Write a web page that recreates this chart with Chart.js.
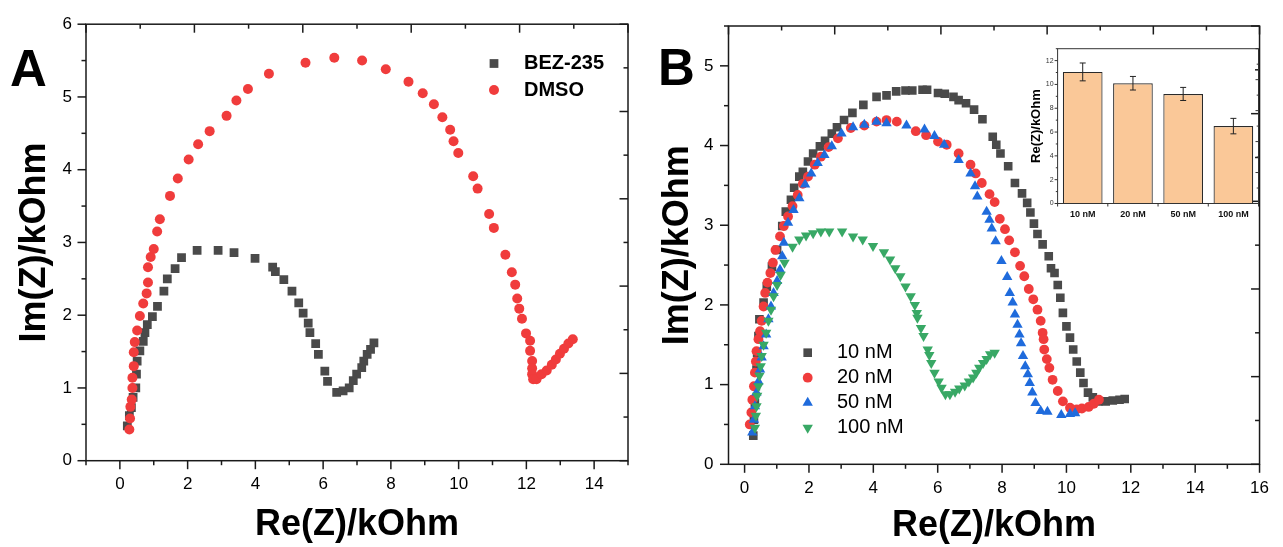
<!DOCTYPE html>
<html>
<head>
<meta charset="utf-8">
<script src="https://cdn.jsdelivr.net/npm/chart.js@4.4.1/dist/chart.umd.min.js"></script>
<style>
  body { margin: 0; background: #fff; }
  #wrap { position: relative; width: 1283px; height: 547px; }
  canvas { position: absolute; }
</style>
</head>
<body>
<div id="wrap">
  <canvas id="chartA" width="641" height="547" style="left:0;top:0"></canvas>
  <canvas id="chartB" width="642" height="547" style="left:641px;top:0"></canvas>
  <canvas id="inset" width="275" height="190" style="left:995px;top:40px"></canvas>
</div>
<script>
// ---- panel A data (Re, Im in kOhm) ----
var bezX = [0.22,0.28,0.34,0.39,0.47,0.49,0.51,0.59,0.69,0.74,0.81,0.96,1.11,1.30,1.40,1.63,1.82,2.28,2.90,3.37,3.99,4.51,4.59,4.84,5.08,5.28,5.41,5.56,5.61,5.78,5.86,6.05,6.13,6.40,6.59,6.77,6.89,6.99,7.14,7.20,7.30,7.40,7.50];
var bezY = [0.48,0.62,0.73,0.87,1.00,1.19,1.37,1.51,1.64,1.76,1.87,1.98,2.12,2.33,2.50,2.64,2.79,2.89,2.89,2.86,2.78,2.66,2.60,2.49,2.33,2.17,2.03,1.89,1.76,1.61,1.46,1.23,1.09,0.94,0.96,1.00,1.10,1.19,1.28,1.37,1.46,1.53,1.62];

var dmsoX = [0.28,0.30,0.31,0.35,0.37,0.37,0.41,0.41,0.44,0.51,0.59,0.69,0.79,0.83,0.83,0.91,1.00,1.10,1.18,1.48,1.71,2.03,2.31,2.65,3.15,3.44,3.78,4.40,5.48,6.33,7.15,7.85,8.52,8.94,9.27,9.52,9.75,9.85,9.99,10.43,10.56,10.90,11.04,11.38,11.57,11.67,11.73,11.79,11.87,11.99,12.11,12.11,12.17,12.17,12.17,12.20,12.30,12.45,12.60,12.75,12.87,12.99,13.11,13.24,13.37];
var dmsoY = [0.43,0.58,0.74,0.84,1.00,1.14,1.30,1.49,1.63,1.79,1.99,2.16,2.30,2.45,2.66,2.80,2.91,3.15,3.32,3.64,3.88,4.14,4.35,4.53,4.74,4.95,5.11,5.32,5.47,5.54,5.50,5.38,5.21,5.05,4.90,4.72,4.55,4.39,4.23,3.91,3.74,3.39,3.20,2.83,2.59,2.42,2.23,2.09,1.95,1.75,1.65,1.51,1.37,1.27,1.19,1.12,1.12,1.19,1.24,1.32,1.39,1.47,1.54,1.61,1.67];

// ---- panel B data ----
var nm10X = [0.27,0.29,0.32,0.35,0.37,0.39,0.43,0.46,0.59,0.69,0.85,1.01,1.17,1.28,1.44,1.54,1.70,1.81,1.97,2.13,2.34,2.50,2.71,2.87,3.09,3.35,3.69,4.10,4.41,4.71,5.00,5.21,5.53,5.67,6.01,6.22,6.49,6.65,6.88,7.13,7.39,7.71,7.82,7.95,8.19,8.40,8.62,8.78,8.88,8.99,9.10,9.26,9.45,9.52,9.63,9.73,9.81,9.89,10.00,10.11,10.21,10.32,10.43,10.53,10.67,10.82,10.99,11.22,11.44,11.65,11.81];
var nm10Y = [0.36,0.56,0.77,0.98,1.19,1.40,1.61,1.82,2.03,2.23,2.48,2.69,2.99,3.17,3.32,3.47,3.61,3.67,3.80,3.90,3.99,4.06,4.15,4.23,4.32,4.41,4.51,4.61,4.63,4.68,4.69,4.69,4.70,4.70,4.66,4.65,4.61,4.57,4.53,4.45,4.33,4.11,4.01,3.90,3.74,3.53,3.40,3.28,3.16,3.02,2.89,2.76,2.61,2.46,2.40,2.25,2.09,1.90,1.73,1.59,1.44,1.29,1.15,1.02,0.90,0.84,0.79,0.79,0.80,0.81,0.82];

var nm20X = [0.16,0.21,0.24,0.29,0.32,0.35,0.37,0.43,0.48,0.53,0.59,0.64,0.71,0.80,0.88,0.96,1.10,1.22,1.35,1.49,1.65,1.81,1.97,2.18,2.37,2.61,2.90,3.30,3.72,4.10,4.41,4.73,5.32,5.64,6.01,6.28,6.65,7.02,7.18,7.37,7.61,7.77,7.93,8.09,8.22,8.40,8.56,8.69,8.83,8.97,9.10,9.20,9.26,9.29,9.31,9.39,9.47,9.57,9.73,9.89,10.11,10.32,10.48,10.69,10.85,11.01];
var nm20Y = [0.50,0.65,0.81,0.98,1.15,1.29,1.42,1.57,1.67,1.80,1.98,2.15,2.28,2.40,2.53,2.69,2.86,2.99,3.11,3.24,3.38,3.52,3.61,3.76,3.86,3.98,4.09,4.22,4.25,4.30,4.32,4.30,4.18,4.13,4.05,4.01,3.90,3.76,3.65,3.53,3.39,3.29,3.08,2.95,2.81,2.66,2.49,2.36,2.20,2.07,1.94,1.80,1.65,1.57,1.44,1.32,1.21,1.06,0.92,0.79,0.71,0.69,0.70,0.72,0.76,0.81];

var nm50X = [0.24,0.29,0.32,0.37,0.43,0.48,0.53,0.59,0.67,0.74,0.82,0.90,1.01,1.10,1.17,1.22,1.35,1.52,1.70,1.88,2.07,2.27,2.48,2.71,3.01,3.37,3.72,4.10,4.41,5.03,5.59,5.90,6.20,6.65,7.02,7.16,7.23,7.52,7.61,7.68,7.80,7.98,8.16,8.24,8.33,8.40,8.48,8.54,8.59,8.65,8.72,8.80,8.86,8.94,9.04,9.20,9.41,9.84,10.11,10.27];
var nm50Y = [0.40,0.56,0.73,0.90,1.04,1.19,1.34,1.48,1.63,1.82,1.98,2.15,2.30,2.44,2.61,2.78,3.03,3.19,3.34,3.51,3.65,3.78,3.88,3.99,4.15,4.23,4.26,4.30,4.28,4.25,4.20,4.12,4.01,3.82,3.65,3.49,3.36,3.17,3.07,2.96,2.80,2.55,2.35,2.15,2.03,1.88,1.75,1.63,1.52,1.36,1.23,1.13,1.02,0.90,0.77,0.67,0.66,0.62,0.63,0.64];

var nm100X = [0.32,0.35,0.37,0.39,0.43,0.46,0.50,0.53,0.59,0.67,0.74,0.82,0.90,1.01,1.12,1.24,1.49,1.70,1.91,2.13,2.37,2.63,3.03,3.37,3.67,3.99,4.33,4.52,4.68,4.84,5.00,5.16,5.29,5.35,5.37,5.48,5.56,5.69,5.74,5.80,5.90,6.03,6.12,6.24,6.38,6.54,6.67,6.84,6.97,7.10,7.20,7.29,7.41,7.52,7.63,7.77];
var nm100Y = [0.46,0.61,0.73,0.86,0.98,1.11,1.23,1.36,1.50,1.65,1.80,1.94,2.11,2.25,2.38,2.53,2.73,2.82,2.87,2.90,2.92,2.92,2.92,2.86,2.82,2.74,2.66,2.57,2.46,2.36,2.23,2.11,2.00,1.90,1.84,1.71,1.61,1.44,1.37,1.27,1.15,1.04,0.96,0.88,0.88,0.91,0.95,0.99,1.04,1.09,1.15,1.21,1.27,1.32,1.38,1.40];

// ---- inset bar data ----
var insetLabels = ['10 nM', '20 nM', '50 nM', '100 nM'];
var insetValues = [11.05, 10.1, 9.2, 6.5];
var insetErrors = [0.75, 0.57, 0.55, 0.65];

function pts(xs, ys) {
  return xs.map(function (x, i) { return { x: x, y: ys[i] }; });
}

Chart.defaults.font.family = "'Liberation Sans', Arial, sans-serif";
Chart.defaults.color = '#000';
Chart.defaults.animation = false;
Chart.defaults.events = [];
Chart.defaults.plugins.legend.display = false;
Chart.defaults.plugins.tooltip.enabled = false;

// frame + major/minor tick marks, outward on the main axes, inward on the mirror axes
function frameTicks(o) {
  return {
    id: 'frameTicks',
    afterDraw: function (chart) {
      var ctx = chart.ctx, a = chart.chartArea;
      ctx.save();
      ctx.strokeStyle = o.color;
      ctx.lineWidth = o.width;
      ctx.strokeRect(a.left, a.top, a.right - a.left, a.bottom - a.top);
      o.axes.forEach(function (ax) {
        var s = chart.scales[ax.id];
        var vals = ax.tickValues;
        if (!vals) {
          vals = [];
          for (var i = Math.ceil(s.min / ax.step - 1e-9); i * ax.step <= s.max + 1e-9; i++) vals.push(i * ax.step);
        }
        vals.forEach(function (v) {
          var major = ax.major ? Math.abs(v / ax.major - Math.round(v / ax.major)) < 1e-6 : true;
          var len = (major ? o.long : o.short) * (ax.inward ? -1 : 1);
          var p = s.getPixelForValue(v);
          ctx.beginPath();
          if (ax.edge === 'bottom') { ctx.moveTo(p, a.bottom); ctx.lineTo(p, a.bottom + len); }
          else if (ax.edge === 'top') { ctx.moveTo(p, a.top); ctx.lineTo(p, a.top - len); }
          else if (ax.edge === 'left') { ctx.moveTo(a.left, p); ctx.lineTo(a.left - len, p); }
          else { ctx.moveTo(a.right, p); ctx.lineTo(a.right + len, p); }
          ctx.stroke();
        });
      });
      ctx.restore();
    }
  };
}

function insideLegend(o) {
  return {
    id: 'insideLegend',
    afterDraw: function (chart) {
      var ctx = chart.ctx;
      ctx.save();
      chart.data.datasets.forEach(function (ds, i) {
        var y = o.y + i * o.row;
        ctx.fillStyle = ds.backgroundColor;
        Chart.helpers.drawPoint(ctx, {
          pointStyle: ds.pointStyle, radius: ds.pointRadius,
          rotation: ds.pointRotation || 0, borderWidth: 0
        }, o.x, y);
        ctx.fillStyle = '#000';
        ctx.font = o.font;
        ctx.textBaseline = 'middle';
        ctx.textAlign = 'left';
        ctx.fillText(ds.label, o.textX, y);
      });
      ctx.restore();
    }
  };
}

function panelLetter(o) {
  return {
    id: 'panelLetter',
    afterDraw: function (chart) {
      var ctx = chart.ctx;
      ctx.save();
      ctx.font = o.font;
      ctx.fillStyle = '#000';
      ctx.textBaseline = 'alphabetic';
      ctx.fillText(o.text, o.x, o.y);
      ctx.restore();
    }
  };
}

function errorBars(o) {
  return {
    id: 'errorBars',
    afterDatasetsDraw: function (chart) {
      var ctx = chart.ctx, ys = chart.scales.y;
      var meta = chart.getDatasetMeta(0);
      ctx.save();
      ctx.strokeStyle = o.color;
      ctx.lineWidth = o.width;
      meta.data.forEach(function (bar, i) {
        var v = insetValues[i], e = insetErrors[i];
        var top = ys.getPixelForValue(v + e), bot = ys.getPixelForValue(v - e);
        ctx.beginPath();
        ctx.moveTo(bar.x, top); ctx.lineTo(bar.x, bot);
        ctx.moveTo(bar.x - o.cap, top); ctx.lineTo(bar.x + o.cap, top);
        ctx.moveTo(bar.x - o.cap, bot); ctx.lineTo(bar.x + o.cap, bot);
        ctx.stroke();
      });
      ctx.restore();
    }
  };
}

function fixSize(prop, size) {
  return function (scale) { scale[prop] = size; };
}

function nyquistChart(id, sets, opts) {
  return new Chart(document.getElementById(id), {
    type: 'scatter',
    data: { datasets: sets },
    plugins: [
      frameTicks({
        color: '#1a1a1a', width: 1.5, long: 8.5, short: 4.5,
        axes: [
          { id: 'x', edge: 'bottom', step: 1, major: 2 },
          { id: 'y', edge: 'left', step: 0.5, major: 1 },
          { id: 'x2', edge: 'top', step: 1, major: 2, inward: true },
          { id: 'y2', edge: 'right', step: 1, major: 2, inward: true }
        ]
      }),
      insideLegend(opts.legend),
      panelLetter(opts.letter)
    ],
    options: {
      responsive: false,
      devicePixelRatio: 1,
      layout: { padding: opts.padding },
      scales: {
        x: {
          type: 'linear', position: 'bottom', min: opts.xMin, max: opts.xMax,
          grid: { display: false, drawTicks: false }, border: { display: false },
          ticks: {
            stepSize: 1, autoSkip: false, includeBounds: false, maxRotation: 0, padding: opts.xPad,
            font: { size: 17 }, color: '#000',
            callback: function (v) { return v % 2 === 0 ? v : ''; }
          },
          title: { display: true, text: 'Re(Z)/kOhm', font: { size: 36, weight: 'bold', lineHeight: 1 }, padding: { top: 0, bottom: opts.xTitlePad } },
          afterFit: fixSize('height', opts.xHeight)
        },
        y: {
          type: 'linear', position: 'left', min: 0, max: opts.yMax,
          grid: { display: false, drawTicks: false }, border: { display: false },
          ticks: {
            stepSize: 0.5, autoSkip: false, includeBounds: false, padding: opts.yPad,
            font: { size: 17 }, color: '#000',
            callback: function (v) { return Number.isInteger(v) ? v : ''; }
          },
          title: { display: true, text: 'Im(Z)/kOhm', font: { size: 36, weight: 'bold', lineHeight: 1 }, padding: { top: opts.yTitlePad, bottom: 0 } },
          afterFit: fixSize('width', opts.yWidth)
        },
        x2: { type: 'linear', position: 'top', min: 0, max: 10, display: false },
        y2: { type: 'linear', position: 'right', min: 0, max: 10, display: false }
      }
    }
  });
}

function series(label, xs, ys, color, style, r, order, rot) {
  return {
    label: label, data: pts(xs, ys), order: order,
    backgroundColor: color, borderColor: color,
    pointStyle: style, pointRadius: r, pointBorderWidth: 0,
    pointRotation: rot || 0, showLine: false
  };
}

var GREY = '#4a4a4a', RED = '#f03c3c', BLUE = '#1f6bdc', GREEN = '#38a865';

nyquistChart('chartA', [
  series('BEZ-235', bezX, bezY, GREY, 'rect', 6.2, 1),
  series('DMSO', dmsoX, dmsoY, RED, 'circle', 5, 0)
], {
  padding: { top: 22.3, right: 10.3, left: 0, bottom: 0 },
  xMin: -1, xMax: 15, yMax: 6,
  xHeight: 86.3, yWidth: 86, xPad: 13, yPad: 14, xTitlePad: 4, yTitlePad: 17,
  legend: { x: 494, y: 63.5, row: 26.5, textX: 524, font: "bold 20px 'Liberation Sans', Arial, sans-serif" },
  letter: { text: 'A', x: 10, y: 86, font: "bold 51px 'Liberation Sans', Arial, sans-serif" }
});

nyquistChart('chartB', [
  series('10 nM', nm10X, nm10Y, GREY, 'rect', 6.1, 3),
  series('20 nM', nm20X, nm20Y, RED, 'circle', 4.9, 2),
  series('50 nM', nm50X, nm50Y, BLUE, 'triangle', 6, 1),
  series('100 nM', nm100X, nm100Y, GREEN, 'triangle', 6, 0, 180)
], {
  padding: { top: 26, right: 9.7, left: 0, bottom: 0 },
  xMin: -0.5, xMax: 16, yMax: 5.5,
  xHeight: 82.7, yWidth: 87.5, xPad: 14, yPad: 15, xTitlePad: 3, yTitlePad: 19,
  legend: { x: 166.7, y: 352.7, row: 25, textX: 196, font: "20px 'Liberation Sans', Arial, sans-serif" },
  letter: { text: 'B', x: 17, y: 84.5, font: "bold 51px 'Liberation Sans', Arial, sans-serif" }
});

new Chart(document.getElementById('inset'), {
  type: 'bar',
  data: {
    labels: insetLabels,
    datasets: [{
      data: insetValues, backgroundColor: '#fac898', borderColor: '#2a2a2a', borderWidth: 1.2,
      categoryPercentage: 1, barPercentage: 0.79
    }]
  },
  plugins: [
    errorBars({ color: '#222', width: 1, cap: 3 }),
    frameTicks({
      color: '#333', width: 1, long: 3, short: 1.8,
      axes: [
        { id: 'y', edge: 'left', step: 1, major: 2 },
        { id: 'y2', edge: 'right', step: 1, major: 2, inward: true },
        { id: 'x', edge: 'bottom', tickValues: insetLabels.map(function (l, i) { return i - 0.5; }).concat([insetLabels.length - 0.5]) }
      ]
    })
  ],
  options: {
    responsive: false,
    devicePixelRatio: 1,
    layout: { padding: { top: 8.7, right: 11.5, left: 0, bottom: 0 } },
    scales: {
      x: {
        grid: { display: false, drawTicks: false }, border: { display: false },
        ticks: { padding: 5.5, font: { size: 9, weight: 'bold' }, color: '#111', maxRotation: 0 },
        afterFit: fixSize('height', 26.5)
      },
      y: {
        min: 0, max: 13,
        grid: { display: false, drawTicks: false }, border: { display: false },
        ticks: {
          stepSize: 2, includeBounds: false, padding: 4, font: { size: 7 }, color: '#333',
          callback: function (v) { return v % 2 === 0 ? v : ''; }
        },
        title: { display: true, text: 'Re(Z)/kOhm', font: { size: 13, weight: 'bold', lineHeight: 1 }, padding: { top: 34.5, bottom: 0 } },
        afterFit: fixSize('width', 62.6)
      },
      y2: { type: 'linear', position: 'right', min: 0, max: 10, display: false }
    }
  }
});
</script>
</body>
</html>
